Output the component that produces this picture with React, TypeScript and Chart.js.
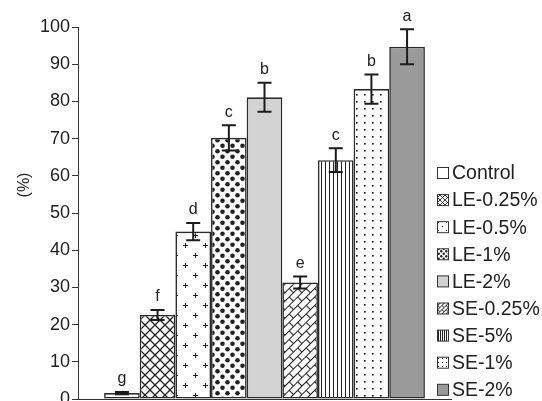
import { useEffect, useRef } from "react";
import { Chart, registerables } from "chart.js";

Chart.register(...registerables);

// Treatment groups, mean response (%), standard error and significance letters
const groups = ["Control", "LE-0.25%", "LE-0.5%", "LE-1%", "LE-2%", "SE-0.25%", "SE-5%", "SE-1%", "SE-2%"];
const means = [1.6, 22.6, 45.0, 70.2, 81.1, 31.3, 64.2, 83.3, 94.7];
const errors = [0.3, 1.35, 2.3, 3.4, 3.9, 1.6, 3.2, 3.9, 4.7];
const letters = ["g", "f", "d", "c", "b", "e", "c", "b", "a"];
const fillKinds = ["white", "cross", "plus", "dots", "light", "brick", "vlines", "fine", "dark"];

const FONT = "'Liberation Sans', Arial, sans-serif";
const INK = "#222";
const EDGE = "#2b2b2b";

function tile(w: number, h: number, draw: (g: CanvasRenderingContext2D) => void) {
  const c = document.createElement("canvas");
  c.width = w;
  c.height = h;
  const g = c.getContext("2d")!;
  g.fillStyle = "#fff";
  g.fillRect(0, 0, w, h);
  g.strokeStyle = INK;
  g.fillStyle = INK;
  draw(g);
  return c;
}

function makeFill(ctx: CanvasRenderingContext2D, kind: string, small: boolean): string | CanvasPattern {
  if (kind === "white") return "#ffffff";
  if (kind === "light") return "#d2d2d2";
  if (kind === "dark") return "#9a9a9a";
  let c: HTMLCanvasElement;
  let rotate = 0;
  if (kind === "cross") {
    const s = small ? 5 : 10;
    c = tile(s, s, (g) => {
      g.lineWidth = small ? 0.9 : 1.3;
      g.beginPath();
      g.moveTo(0, 0); g.lineTo(s, s);
      g.moveTo(s, 0); g.lineTo(0, s);
      g.stroke();
    });
  } else if (kind === "plus") {
    const s = small ? 8 : 20;
    const a = small ? 0 : 2;
    c = tile(s, s, (g) => {
      for (const [px, py] of [[s / 4, s / 4], [(3 * s) / 4, (3 * s) / 4]]) {
        g.fillRect(px - a, py, 2 * a + 1, 1);
        g.fillRect(px, py - a, 1, 2 * a + 1);
      }
    });
  } else if (kind === "dots") {
    const w = small ? 5 : 10;
    const h = small ? 5 : 11;
    const r = small ? 1.2 : 2.3;
    c = tile(w, h, (g) => {
      for (const [px, py] of [[w / 4, h / 4], [(3 * w) / 4, (3 * h) / 4]]) {
        g.beginPath();
        g.arc(px, py, r, 0, Math.PI * 2);
        g.fill();
      }
    });
  } else if (kind === "brick") {
    const L = small ? 6 : 12;
    const H = small ? 3 : 6;
    c = tile(L, H * 2, (g) => {
      g.lineWidth = small ? 0.8 : 1.1;
      g.beginPath();
      g.moveTo(0, 0.5); g.lineTo(L, 0.5);
      g.moveTo(0, H + 0.5); g.lineTo(L, H + 0.5);
      g.moveTo(0.5, 0); g.lineTo(0.5, H);
      g.moveTo(L / 2 + 0.5, H); g.lineTo(L / 2 + 0.5, 2 * H);
      g.stroke();
    });
    rotate = -45;
  } else if (kind === "vlines") {
    const s = small ? 2 : 4;
    c = tile(s, 4, (g) => {
      g.fillRect(small ? 0 : 1, 0, 1, 4);
    });
  } else {
    // fine dotted fill
    const w = small ? 4 : 8;
    const h = small ? 4 : 7;
    c = tile(w, h, (g) => {
      g.fillStyle = "#111";
      g.fillRect(Math.floor(w / 2), Math.floor(h / 2), small ? 1 : 1.6, small ? 1 : 1.6);
    });
  }
  const p = ctx.createPattern(c, "repeat")!;
  if (rotate) p.setTransform(new DOMMatrix().rotateSelf(rotate));
  return p;
}

export default function App() {
  const ref = useRef<HTMLCanvasElement | null>(null);

  useEffect(() => {
    const canvas = ref.current!;
    const ctx = canvas.getContext("2d")!;
    const barFills = fillKinds.map((k) => makeFill(ctx, k, false));
    const keyFills = fillKinds.map((k) => makeFill(ctx, k, true));

    const errorBars = {
      id: "errorBars",
      afterDatasetsDraw(chart: any) {
        const c = chart.ctx;
        const y = chart.scales.y;
        c.save();
        c.strokeStyle = "#1c1c1c";
        c.lineWidth = 2;
        c.fillStyle = INK;
        c.font = `16px ${FONT}`;
        c.textAlign = "center";
        c.textBaseline = "bottom";
        chart.data.datasets.forEach((ds: any, i: number) => {
          const el = chart.getDatasetMeta(i).data[0];
          const v = ds.data[0];
          const e = errors[i];
          const yt = y.getPixelForValue(v + e);
          const yb = y.getPixelForValue(v - e);
          const x = el.x;
          c.beginPath();
          c.moveTo(x, yt); c.lineTo(x, yb);
          c.moveTo(x - 7, yt); c.lineTo(x + 7, yt);
          c.moveTo(x - 7, yb); c.lineTo(x + 7, yb);
          c.stroke();
          c.fillText(letters[i], x, yt - 5);
        });
        c.restore();
      },
    };

    const sideKey = {
      id: "sideKey",
      afterDraw(chart: any) {
        const c = chart.ctx;
        c.save();
        // y-axis title
        c.fillStyle = INK;
        c.font = `16px ${FONT}`;
        c.textAlign = "center";
        c.textBaseline = "middle";
        c.translate(25, 185);
        c.rotate(-Math.PI / 2);
        c.fillText("(%)", 0, 0);
        c.restore();

        c.save();
        c.font = `19.5px ${FONT}`;
        c.textBaseline = "middle";
        c.textAlign = "left";
        chart.data.datasets.forEach((ds: any, i: number) => {
          const cy = 173 + i * 27.1;
          c.fillStyle = keyFills[i];
          c.fillRect(437.5, cy - 5.5, 11, 11);
          c.strokeStyle = "#333";
          c.lineWidth = 1;
          c.strokeRect(437.5, cy - 5.5, 11, 11);
          c.fillStyle = INK;
          c.fillText(ds.label, 452, cy + 1);
        });
        c.restore();
      },
    };

    const chart = new Chart(canvas, {
      type: "bar",
      data: {
        labels: [""],
        datasets: groups.map((g, i) => ({
          label: g,
          data: [means[i]],
          backgroundColor: barFills[i] as any,
          borderColor: EDGE,
          borderWidth: 1.6,
          borderSkipped: false,
          categoryPercentage: 0.86,
          barPercentage: 1,
        })),
      },
      options: {
        responsive: false,
        animation: false,
        layout: { padding: { top: 27, right: 91, bottom: 2, left: 0 } },
        plugins: { legend: { display: false }, tooltip: { enabled: false } },
        scales: {
          x: {
            grid: { display: false, drawTicks: false },
            ticks: { display: false },
            border: { display: true, color: "#333", width: 1 },
          },
          y: {
            min: 0,
            max: 100,
            ticks: { stepSize: 10, color: INK, padding: 2, font: { size: 18, family: FONT } },
            grid: { drawOnChartArea: false, tickLength: 6, color: "#333", lineWidth: 1 },
            border: { display: true, color: "#333", width: 1 },
            afterFit(scale: any) {
              scale.width = 78;
              scale.paddingTop = 0;
              scale.paddingBottom = 0;
            },
          },
        },
      },
      plugins: [errorBars, sideKey],
    });

    return () => chart.destroy();
  }, []);

  return (
    <div style={{ position: "absolute", left: 0, top: 0, width: 542, height: 401, background: "#fff" }}>
      <canvas ref={ref} width={542} height={401} style={{ display: "block" }} />
    </div>
  );
}
